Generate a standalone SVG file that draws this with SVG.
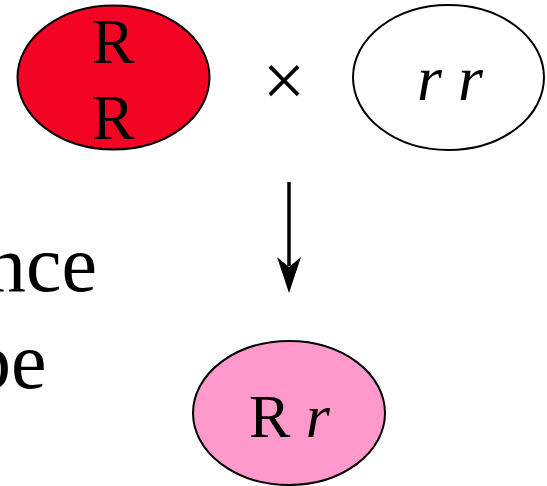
<svg xmlns="http://www.w3.org/2000/svg" width="547" height="486" viewBox="0 0 547 486">
<style>
.e{stroke:#000;stroke-width:2}
.t{font-family:"Liberation Serif","Times New Roman",serif;fill:#000}
.i{font-style:italic}
</style>
<rect width="547" height="486" fill="#fff"/>
<g id="side-text">
<text class="t" x="-14" y="291" font-size="80">nce</text>
<text class="t" x="-29" y="388" font-size="80">pe</text>
</g>
<g id="parent-RR">
<ellipse class="e" cx="113.5" cy="77.5" rx="96" ry="72" fill="#F40424"/>
<text class="t" x="113" y="63" font-size="64" text-anchor="middle">R</text>
<text class="t" x="113" y="139" font-size="64" text-anchor="middle">R</text>
</g>
<g id="cross">
<text class="t" x="284" y="106" font-size="76" text-anchor="middle">×</text>
</g>
<g id="parent-rr">
<ellipse class="e" cx="448.5" cy="77.5" rx="95.5" ry="72.5" fill="#fff"/>
<text class="t i" x="450" y="100" font-size="64" text-anchor="middle">r r</text>
</g>
<g id="connectors">
<line x1="289" y1="182" x2="289" y2="266" stroke="#000" stroke-width="3.5"/>
<polygon points="277,257 289,293 301,257 289,267" fill="#000"/>
</g>
<g id="offspring-Rr">
<ellipse class="e" cx="289" cy="413" rx="96" ry="72" fill="#FF99CC"/>
<text class="t" x="249" y="437" font-size="62">R <tspan class="i">r</tspan></text>
</g>
</svg>
